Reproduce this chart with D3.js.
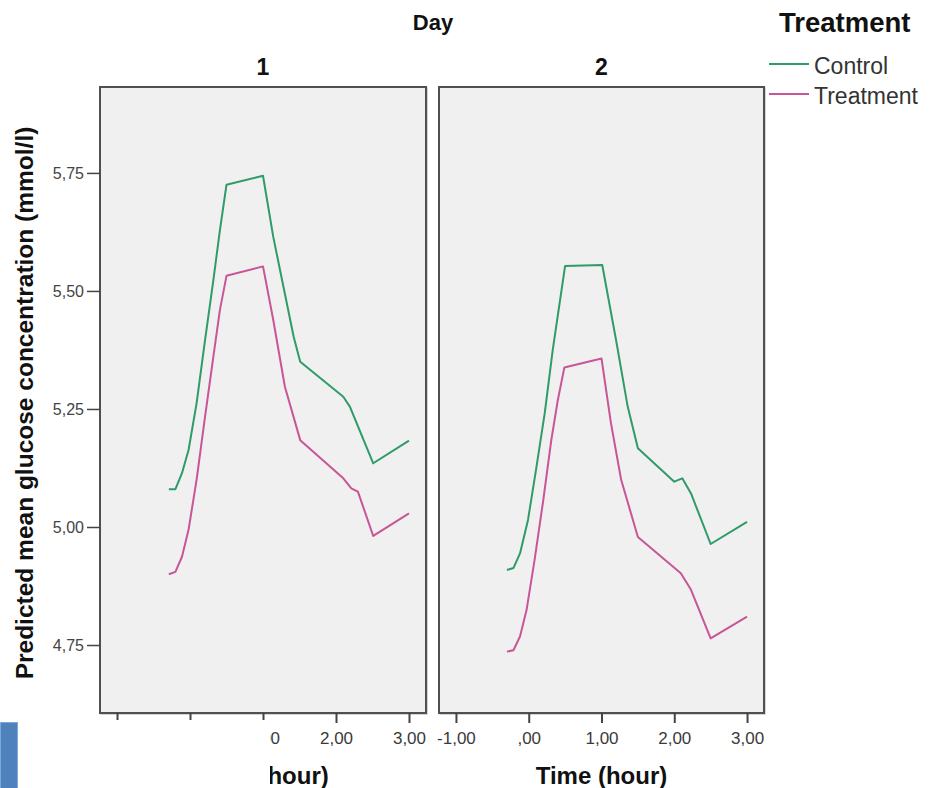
<!DOCTYPE html>
<html>
<head>
<meta charset="utf-8">
<script src="https://cdn.jsdelivr.net/npm/d3@7/dist/d3.min.js"></script>
<style>
  html, body { margin: 0; padding: 0; background: #ffffff; }
  svg { display: block; font-family: "Liberation Sans", Arial, sans-serif; }
</style>
</head>
<body>
<svg id="chart" width="942" height="788"></svg>
<script>
// ---------- data ----------
const days = ["1", "2"];
const seriesNames = ["Control", "Treatment"];
const seriesColors = ["#2e9b68", "#c85596"];

const day1ControlTime  = [-0.29, -0.20, -0.11, -0.02, 0.09, 0.20, 0.32, 0.41, 0.50, 1.00, 1.14, 1.28, 1.42, 1.51, 2.10, 2.19, 2.51, 3.00];
const day1ControlValue = [5.080, 5.080, 5.114, 5.163, 5.262, 5.389, 5.523, 5.629, 5.725, 5.744, 5.615, 5.509, 5.403, 5.350, 5.276, 5.255, 5.135, 5.183];

const day1TreatTime  = [-0.29, -0.20, -0.11, -0.02, 0.09, 0.20, 0.32, 0.41, 0.50, 1.00, 1.14, 1.30, 1.51, 2.10, 2.21, 2.30, 2.51, 3.00];
const day1TreatValue = [4.900, 4.905, 4.937, 4.994, 5.100, 5.227, 5.361, 5.460, 5.532, 5.552, 5.439, 5.297, 5.184, 5.103, 5.082, 5.075, 4.981, 5.029];

const day2ControlTime  = [-0.30, -0.21, -0.12, -0.01, 0.10, 0.22, 0.33, 0.50, 1.01, 1.20, 1.36, 1.50, 2.00, 2.11, 2.23, 2.50, 3.00];
const day2ControlValue = [4.909, 4.913, 4.944, 5.015, 5.121, 5.241, 5.375, 5.553, 5.555, 5.396, 5.255, 5.167, 5.096, 5.103, 5.071, 4.964, 5.011];

const day2TreatTime  = [-0.30, -0.21, -0.12, -0.03, 0.08, 0.20, 0.31, 0.40, 0.49, 1.00, 1.13, 1.27, 1.50, 2.09, 2.23, 2.50, 3.00];
const day2TreatValue = [4.736, 4.739, 4.768, 4.824, 4.930, 5.057, 5.184, 5.269, 5.338, 5.357, 5.220, 5.100, 4.979, 4.902, 4.867, 4.764, 4.810];

const xTicks = [-1, 0, 1, 2, 3];
const yTicks = [4.75, 5.00, 5.25, 5.50, 5.75];
const xDomain = [-1.233, 3.233];
const yDomain = [4.606, 5.932];

const xTitle = "Time (hour)";
const yTitle = "Predicted mean glucose concentration (mmol/l)";
const stripTitle = "Day";
const legendTitle = "Treatment";

// ---------- build ----------
const panelData = [
  [ {name: seriesNames[0], t: day1ControlTime, v: day1ControlValue},
    {name: seriesNames[1], t: day1TreatTime,   v: day1TreatValue} ],
  [ {name: seriesNames[0], t: day2ControlTime, v: day2ControlValue},
    {name: seriesNames[1], t: day2TreatTime,   v: day2TreatValue} ]
];

const svg = d3.select("#chart");
const panelTop = 87, panelBottom = 713;
const panels = [ {x0: 100, x1: 426}, {x0: 439, x1: 764} ];

const y = d3.scaleLinear().domain(yDomain).range([panelBottom, panelTop]);
const color = d3.scaleOrdinal().domain(seriesNames).range(seriesColors);
const fmt = d => (d === 0 ? ",00" : d3.format(".2f")(d).replace(".", ",").replace("\u2212", "-"));

panels.forEach((p, i) => {
  const x = d3.scaleLinear().domain(xDomain).range([p.x0, p.x1]);
  const g = svg.append("g");

  // panel background + frame
  g.append("rect")
    .attr("x", p.x0 + 1).attr("y", panelTop + 1)
    .attr("width", p.x1 - p.x0).attr("height", panelBottom - panelTop)
    .attr("fill", "none").attr("stroke", "#c8c8c8").attr("stroke-width", 1.5);
  g.append("rect")
    .attr("x", p.x0).attr("y", panelTop)
    .attr("width", p.x1 - p.x0).attr("height", panelBottom - panelTop)
    .attr("fill", "#f0f0f0").attr("stroke", "#505050").attr("stroke-width", 2);

  // strip label
  g.append("text")
    .attr("x", (p.x0 + p.x1) / 2).attr("y", 75)
    .attr("text-anchor", "middle").attr("font-weight", "bold")
    .attr("font-size", 23).attr("fill", "#111")
    .text(days[i]);

  // lines
  const line = d3.line().x(d => x(d[0])).y(d => y(d[1]));
  panelData[i].forEach(s => {
    const pts = s.t.map((t, k) => [t, s.v[k]]);
    g.append("path")
      .datum(pts)
      .attr("d", line)
      .attr("fill", "none")
      .attr("stroke", color(s.name))
      .attr("stroke-width", 2)
      .attr("stroke-linejoin", "round");
  });

  // x axis
  const xa = g.append("g")
    .attr("transform", `translate(0,${panelBottom})`)
    .call(d3.axisBottom(x).tickValues(xTicks).tickFormat(fmt).tickSize(10).tickSizeOuter(0));
  xa.select(".domain").remove();
  xa.selectAll(".tick line").attr("stroke", "#444").attr("stroke-width", 2);
  xa.selectAll(".tick text")
    .attr("y", 0).attr("dy", null)
    .attr("transform", "translate(0,30.5)")
    .attr("font-size", 17).attr("fill", "#3a3a3a")
    .attr("font-family", "'Liberation Sans', Arial, sans-serif");

  // x title
  g.append("text")
    .attr("x", (p.x0 + p.x1) / 2).attr("y", 784)
    .attr("text-anchor", "middle").attr("font-weight", "bold")
    .attr("font-size", 24).attr("fill", "#111")
    .text(xTitle);

  // y axis on first panel only
  if (i === 0) {
    const ya = g.append("g")
      .attr("transform", `translate(${p.x0},0)`)
      .call(d3.axisLeft(y).tickValues(yTicks).tickFormat(fmt).tickSize(13).tickSizeOuter(0));
    ya.select(".domain").remove();
    ya.selectAll(".tick line").attr("stroke", "#444").attr("stroke-width", 1.5);
    ya.selectAll(".tick text")
      .attr("x", -16).attr("dy", "0.35em")
      .attr("font-size", 16).attr("fill", "#444")
      .attr("font-family", "'Liberation Sans', Arial, sans-serif");
  }
});

// y title
svg.append("text")
  .attr("transform", "translate(33,403) rotate(-90)")
  .attr("text-anchor", "middle").attr("font-weight", "bold")
  .attr("font-size", 24.5).attr("fill", "#111")
  .text(yTitle);

// strip title
svg.append("text")
  .attr("x", 433).attr("y", 30)
  .attr("text-anchor", "middle").attr("font-weight", "bold")
  .attr("font-size", 22).attr("fill", "#111")
  .text(stripTitle);

// legend
svg.append("text")
  .attr("x", 779).attr("y", 32)
  .attr("font-weight", "bold").attr("font-size", 27.5).attr("fill", "#111")
  .text(legendTitle);
const legendY = [64, 94];
seriesNames.forEach((n, k) => {
  svg.append("line")
    .attr("x1", 769).attr("x2", 809)
    .attr("y1", legendY[k]).attr("y2", legendY[k])
    .attr("stroke", color(n)).attr("stroke-width", 2);
  svg.append("text")
    .attr("x", 814).attr("y", legendY[k] + 10)
    .attr("font-size", 23).attr("fill", "#333")
    .text(n);
});

// overlay pieces present in the reference (covering box + blue block)
svg.append("rect")
  .attr("x", 19).attr("y", 720).attr("width", 251).attr("height", 68)
  .attr("fill", "#ffffff");
svg.append("rect")
  .attr("x", 0.5).attr("y", 722.5).attr("width", 17).attr("height", 66)
  .attr("fill", "#4f81bd").attr("stroke", "#7fa7d8").attr("stroke-width", 1);
</script>
</body>
</html>
